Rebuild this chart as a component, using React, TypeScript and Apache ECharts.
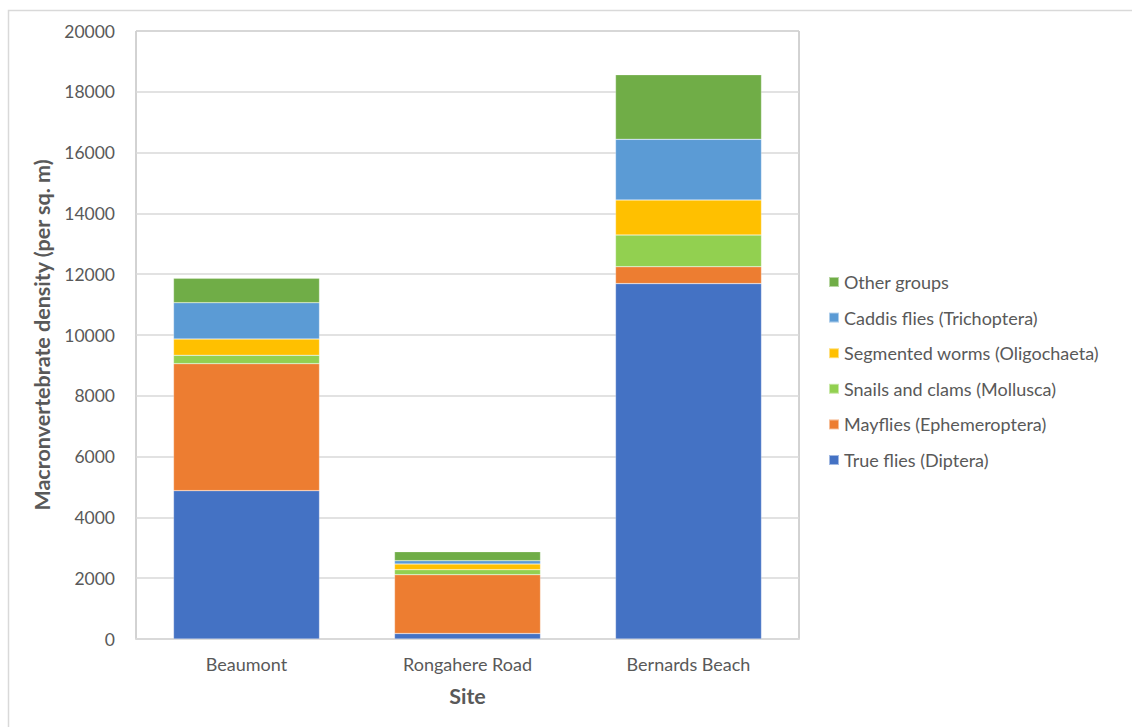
import React, { useEffect, useRef } from "react";
import * as echarts from "echarts";

const sites = ["Beaumont", "Rongahere Road", "Bernards Beach"];
const trueFlies = [4880, 180, 11690];
const mayflies = [4177, 1936, 557];
const snailsClams = [275, 165, 1042];
const segmentedWorms = [536, 186, 1152];
const caddisFlies = [1195, 110, 1996];
const otherGroups = [802, 296, 2126];

const seriesNames = [
  "True flies (Diptera)",
  "Mayflies (Ephemeroptera)",
  "Snails and clams (Mollusca)",
  "Segmented worms (Oligochaeta)",
  "Caddis flies (Trichoptera)",
  "Other groups",
];
const seriesValues = [trueFlies, mayflies, snailsClams, segmentedWorms, caddisFlies, otherGroups];
const seriesColors = ["#4472C4", "#ED7D31", "#92D050", "#FFC000", "#5B9BD5", "#70AD47"];

const yMin = 0;
const yMax = 20000;
const yInterval = 2000;

export default function App() {
  const ref = useRef<HTMLDivElement>(null);
  useEffect(() => {
    if (!ref.current) return;
    const chart = echarts.init(ref.current, null, { renderer: "svg" });
    const font = "Lato, 'Noto Sans', sans-serif";
    chart.setOption({
      animation: false,
      backgroundColor: "#ffffff",
      textStyle: { fontFamily: font },
      graphic: [
        {
          type: "rect",
          shape: { x: 8.5, y: 10.5, width: 1300, height: 900 },
          style: { fill: "none", stroke: "#d9d9d9", lineWidth: 1.5 },
          silent: true,
          z: -1,
        },
      ],
      grid: {
        left: 136,
        top: 31,
        right: 333,
        bottom: 88,
        show: true,
        borderColor: "#a6a6a6",
        borderWidth: 1,
      },
      legend: {
        orient: "vertical",
        left: 823,
        top: 267,
        itemWidth: 10,
        itemHeight: 10,
        itemGap: 15.6,
        icon: "rect",
        data: seriesNames.slice().reverse(),
        textStyle: { color: "#595959", fontSize: 18, fontFamily: font, lineHeight: 20 },
      },
      xAxis: {
        type: "category",
        data: sites,
        name: "Site",
        nameLocation: "middle",
        nameGap: 46,
        nameTextStyle: { color: "#595959", fontSize: 21.5, fontWeight: "bold", fontFamily: font },
        axisLine: { show: true, lineStyle: { color: "#d9d9d9", width: 2 } },
        axisTick: { show: false },
        axisLabel: { color: "#595959", fontSize: 18, margin: 16, fontFamily: font },
      },
      yAxis: {
        type: "value",
        min: yMin,
        max: yMax,
        interval: yInterval,
        name: "Macronvertebrate density (per sq. m)",
        nameLocation: "middle",
        nameGap: 78,
        nameTextStyle: { color: "#595959", fontSize: 21.5, fontWeight: "bold", fontFamily: font },
        axisLine: { show: false },
        axisTick: { show: false },
        axisLabel: {
          color: "#595959",
          fontSize: 17.5,
          margin: 21,
          fontFamily: font,
          formatter: (v: number) => String(v),
        },
        splitLine: { lineStyle: { color: "#d9d9d9", width: 1.5 } },
      },
      series: seriesNames.map((name, i) => ({
        name,
        type: "bar",
        stack: "total",
        barWidth: 146,
        data: seriesValues[i],
        itemStyle: { color: seriesColors[i], borderColor: "rgba(255,255,255,0.5)", borderWidth: 0.5 },
      })),
    });
    return () => chart.dispose();
  }, []);
  return (
    <div
      ref={ref}
      style={{ position: "absolute", left: 0, top: 0, width: 1132, height: 727 }}
    />
  );
}
